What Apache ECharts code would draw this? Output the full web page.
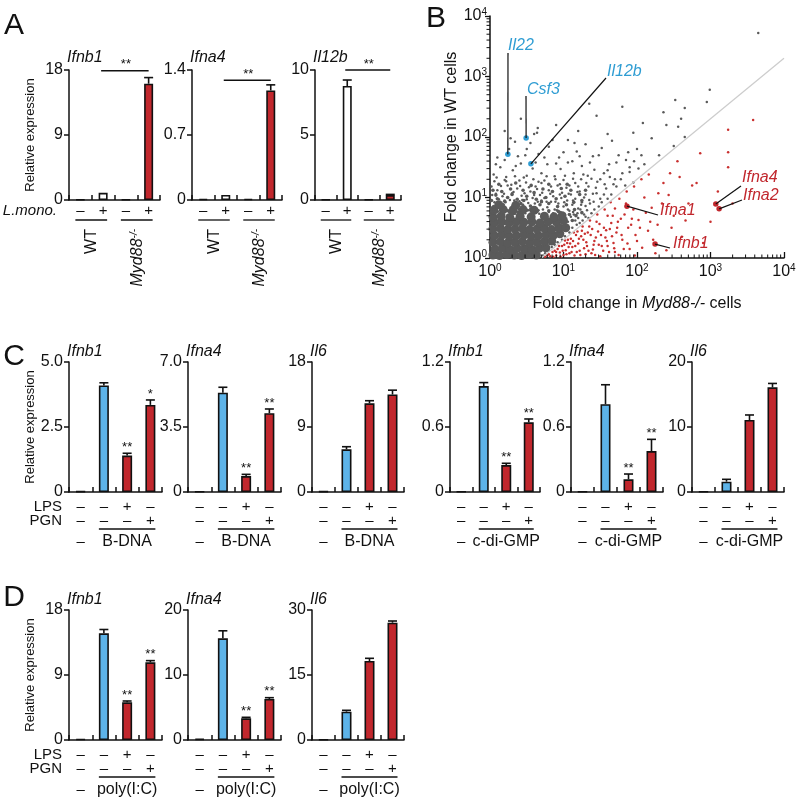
<!DOCTYPE html>
<html><head><meta charset="utf-8">
<script src="https://cdn.jsdelivr.net/npm/echarts@6/dist/echarts.min.js"></script>
<style>html,body{margin:0;padding:0;background:#fff}#c{width:796px;height:799px}</style>
</head><body><div id="c"></div>
<script>
const FONT = '"Liberation Sans", Arial, Helvetica, sans-serif';
const INK = '#111111', RED = '#c1272d', BLUE = '#5db3e8', WHITE = '#ffffff', LBLUE = '#2f9dd3', GRAY = '#5a5a5a', PTRED = '#c9302f';

const cats = ['1', '2', '3', '4'];

// ---------- Panel A ----------
const aSigns = ['–', '+', '–', '+'];
const aIfnb1 = [0.06, 1.0, 0.06, 16.1];
const aIfnb1Err = [null, null, null, 16.95];
const aIfna4 = [0.012, 0.055, 0.012, 1.18];
const aIfna4Err = [null, null, null, 1.24];
const aIl12b = [0.04, 8.77, 0.04, 0.38];
const aIl12bErr = [null, 9.23, null, 0.43];
const aSig = [17.9, 1.29, 10.0];
const ticksA1 = ['0', '9', '18'], ticksA2 = ['0', '0.7', '1.4'], ticksA3 = ['0', '5', '10'];

// ---------- Panels C / D ----------
const lpsRow = ['–', '–', '+', '–'];
const pgnRow = ['–', '–', '–', '+'];
const cBIfnb1 = [0.03, 4.10, 1.40, 3.35], cBIfnb1Err = [null, 4.20, 1.49, 3.54], cBIfnb1Stars = ['', '', '**', '*'];
const cBIfna4 = [0.03, 5.35, 0.86, 4.24], cBIfna4Err = [null, 5.64, 0.95, 4.47], cBIfna4Stars = ['', '', '**', '**'];
const cBIl6 = [0.10, 5.91, 12.28, 13.5], cBIl6Err = [null, 6.27, 12.64, 14.1];
const cGIfnb1 = [0.005, 0.978, 0.249, 0.643], cGIfnb1Err = [null, 1.01, 0.265, 0.674], cGIfnb1Stars = ['', '', '**', '**'];
const cGIfna4 = [0.005, 0.81, 0.117, 0.378], cGIfna4Err = [null, 0.99, 0.166, 0.486], cGIfna4Stars = ['', '', '**', '**'];
const cGIl6 = [0.10, 1.59, 11.08, 16.1], cGIl6Err = [null, 1.95, 11.85, 16.7];
const dIfnb1 = [0.15, 14.77, 5.22, 10.76], dIfnb1Err = [null, 15.3, 5.40, 10.99], dIfnb1Stars = ['', '', '**', '**'];
const dIfna4 = [0.2, 15.65, 3.33, 6.31], dIfna4Err = [null, 16.8, 3.49, 6.51], dIfna4Stars = ['', '', '**', '**'];
const dIl6 = [0.15, 6.54, 18.23, 27.07], dIl6Err = [null, 6.85, 18.85, 27.46];
const ticksC1 = ['0', '2.5', '5.0'], ticksC2 = ['0', '3.5', '7.0'], ticksC3 = ['0', '9', '18'];
const ticksC4 = ['0', '0.6', '1.2'], ticksC6 = ['0', '10', '20'];
const ticksD1 = ['0', '9', '18'], ticksD2 = ['0', '10', '20'], ticksD3 = ['0', '15', '30'];

// ---------- Panel B (values in log10 units: [log10 Myd88-/-, log10 WT]) ----------
const bTickExp = ['0', '1', '2', '3', '4'];
const logMinor = [2,3,4,5,6,7,8,9,20,30,40,50,60,70,80,90,200,300,400,500,600,700,800,900,2000,3000,4000,5000,6000,7000,8000,9000];
const diagLine = [[5, 1], [10000, 2000]];
const grayCoreLog = [
 [0.04,0.05],[0.13,0.04],[0.23,0.06],[0.33,0.05],[0.43,0.04],[0.53,0.06],[0.63,0.05],
 [0.07,0.15],[0.17,0.16],[0.27,0.14],[0.37,0.16],[0.47,0.15],[0.57,0.14],[0.67,0.16],[0.76,0.17],
 [0.04,0.26],[0.14,0.27],[0.24,0.25],[0.34,0.26],[0.44,0.27],[0.54,0.25],[0.64,0.26],[0.74,0.27],[0.84,0.28],
 [0.06,0.37],[0.16,0.38],[0.26,0.36],[0.36,0.37],[0.46,0.38],[0.56,0.36],[0.66,0.37],[0.76,0.38],[0.86,0.37],[0.95,0.4],
 [0.04,0.48],[0.14,0.49],[0.24,0.47],[0.34,0.48],[0.44,0.49],[0.54,0.47],[0.64,0.48],[0.74,0.49],[0.84,0.47],[0.94,0.5],[1.03,0.5],
 [0.06,0.59],[0.16,0.6],[0.26,0.58],[0.36,0.6],[0.46,0.59],[0.57,0.6],[0.68,0.58],[0.79,0.6],[0.9,0.6],[1.0,0.62],
 [0.04,0.68],[0.15,0.69],[0.27,0.67],[0.41,0.69],[0.56,0.68],[0.74,0.69],[0.87,0.68],[0.98,0.7],
 [0.05,0.79],[0.18,0.8],[0.31,0.78],[0.45,0.8],[0.6,0.79],[0.12,0.88],[0.35,0.87]
];
const grayMidLog = [
 [0.05,0.85],[0.18,0.88],[0.3,0.84],[0.42,0.9],[0.55,0.86],[0.68,0.88],[0.8,0.9],[0.92,0.85],[1.04,0.88],[1.15,0.8],
 [0.1,0.98],[0.24,1.0],[0.37,0.97],[0.5,1.02],[0.63,0.97],[0.76,1.0],[0.9,0.98],[1.02,1.02],[1.14,0.92],[1.25,0.95],
 [0.04,1.12],[0.16,1.1],[0.28,1.14],[0.45,1.12],[0.6,1.08],[0.72,1.14],[0.85,1.1],[0.97,1.15],[1.1,1.12],[1.22,1.05],
 [0.12,1.22],[0.35,1.24],[0.56,1.2],[0.8,1.22],[1.05,1.22],[1.3,1.12],[1.12,0.62],[1.17,0.7],[1.05,0.5],[1.25,0.75],
 [0.09,0.77],[0.24,0.78],[0.38,0.76],[0.5,0.79],[0.64,0.77],[0.8,0.78],[0.93,0.77],[1.08,0.72],
 [0.02,0.95],[0.2,0.94],[0.46,0.95],[0.7,0.93],[0.3,1.05],[0.08,1.04]
];
const grayLog = [
 [0.02,0.8],[0.09,0.86],[0.15,0.78],[0.21,0.92],[0.28,0.83],[0.33,0.95],[0.39,0.8],[0.45,0.88],[0.5,0.97],[0.55,0.82],
 [0.61,0.9],[0.66,0.79],[0.7,0.95],[0.78,0.84],[0.83,0.93],[0.88,0.8],[0.93,0.9],[1.0,0.85],[1.05,0.95],[1.08,0.78],
 [1.12,0.88],[1.16,0.98],[1.2,0.82],[1.25,0.92],[1.3,0.86],[0.12,0.97],[0.36,0.89],[0.58,0.99],[0.97,0.99],[1.1,0.68],
 [1.06,0.6],[1.14,0.72],[1.2,0.66],[1.18,0.55],[1.12,0.5],[1.08,0.42],[1.02,0.36],[0.98,0.3],[0.92,0.26],[0.88,0.22],
 [0.84,0.18],[0.8,0.12],[0.75,0.08],[0.72,0.04],
 [0.03,1.04],[0.1,1.12],[0.17,1.02],[0.24,1.2],[0.3,1.07],[0.37,1.15],[0.43,1.03],[0.49,1.25],[0.55,1.1],[0.62,1.18],
 [0.68,1.04],[0.74,1.28],[0.8,1.12],[0.86,1.02],[0.92,1.2],[0.98,1.08],[1.04,1.16],[1.1,1.05],[1.16,1.24],[1.22,1.1],
 [1.28,1.0],[1.34,1.18],[1.4,1.06],[1.46,1.26],[0.06,1.27],[0.2,1.29],[0.4,1.28],[0.66,1.26],[1.0,1.29],[1.24,1.3],
 [1.36,0.9],[1.42,0.8],[1.5,0.98],[1.48,0.85],
 [0.05,1.38],[0.14,1.5],[0.22,1.34],[0.31,1.45],[0.42,1.56],[0.5,1.36],[0.58,1.48],[0.7,1.4],[0.78,1.55],[0.88,1.35],
 [0.96,1.47],[1.06,1.58],[1.14,1.4],[1.25,1.52],[1.33,1.36],[1.42,1.46],[1.55,1.4],[1.62,1.55],[1.7,1.3],[1.58,1.15],[1.65,1.05],
 [0.1,1.66],[0.26,1.8],[0.38,1.68],[0.55,1.9],[0.66,1.72],[0.8,1.84],[0.94,1.66],[1.06,1.95],[1.18,1.76],[1.3,1.88],
 [1.4,1.68],[1.52,1.82],[1.66,1.94],[1.75,1.7],[1.85,1.62],[1.8,1.4],[1.9,1.5],[1.95,1.25],[2.0,1.8],[1.72,1.18],
 [1.78,1.3],[1.84,1.2],[1.9,1.42],[1.96,1.6],[2.02,1.48],[2.06,1.7],[1.88,1.75],[2.1,1.55],
 [0.2,2.1],[0.42,2.3],[0.6,2.05],[0.9,2.2],[1.2,2.1],[1.45,2.35],[1.6,2.05],[1.95,2.07],[2.08,2.23],[2.2,1.98],
 [2.36,2.41],[2.4,2.2],[2.56,2.17],[2.52,2.61],[2.65,2.48],[2.65,2.0],[2.95,2.58],[2.99,2.78],[3.65,3.72],[1.8,2.5],
 [0.65,2.15],[2.3,1.7],[2.5,1.85],[2.6,2.3],[1.35,2.55],[0.34,1.92],[0.64,2.07],
 [0.03,0.74],[0.11,0.77],[0.19,0.72],[0.26,0.76],[0.34,0.73],[0.41,0.78],[0.48,0.74],[0.53,0.79],[0.6,0.75],[0.67,0.73],
 [0.72,0.8],[0.8,0.76],[0.86,0.74],[0.91,0.79],[0.96,0.76],[1.02,0.72],[1.06,0.8],[1.13,0.76],[1.19,0.74],[1.23,0.8],
 [1.28,0.72],[1.32,0.79],[1.26,0.62],[1.3,0.68],[1.22,0.58],[1.16,0.62],[1.38,0.74],[1.34,0.66],
 [0.06,0.92],[0.14,0.9],[0.19,1.06],[0.27,0.96],[0.32,1.09],[0.4,0.94],[0.47,1.07],[0.52,0.91],[0.6,1.04],[0.65,0.93],
 [0.71,1.08],[0.77,0.93],[0.82,1.06],[0.89,0.93],[0.95,1.05],[1.01,0.92],[1.07,1.06],[1.13,0.95],[1.19,1.09],[1.24,0.88],
 [1.3,1.05],[1.35,0.96],[1.41,0.93],[1.45,1.07],[1.52,0.92],[1.55,1.05],[1.6,0.98],[0.08,1.06],[0.44,0.96],[0.74,0.99],
 [0.02,1.18],[0.09,1.33],[0.15,1.19],[0.22,1.27],[0.29,1.21],[0.34,1.35],[0.41,1.19],[0.46,1.33],[0.53,1.17],[0.59,1.3],
 [0.64,1.14],[0.7,1.24],[0.77,1.35],[0.83,1.18],[0.89,1.3],[0.95,1.22],[1.02,1.36],[1.08,1.2],[1.13,1.31],[1.2,1.18],
 [1.27,1.38],[1.31,1.24],[1.38,1.31],[1.44,1.16],[1.5,1.3],[1.56,1.22],[1.63,1.34],[1.68,1.22],
 [0.08,1.55],[0.2,1.62],[0.35,1.52],[0.48,1.7],[0.62,1.58],[0.74,1.66],[0.9,1.56],[1.0,1.75],[1.12,1.6],[1.22,1.68],
 [1.36,1.58],[1.48,1.7],[1.6,1.45],[1.72,1.58],[0.28,1.98],[0.5,1.8],[0.85,1.95],[1.15,1.9]
];
const redLog = [
 [0.75,0.02],[0.8,0.06],[0.85,0.1],[0.82,0.03],[0.9,0.04],[0.92,0.15],[0.95,0.09],[0.98,0.2],[1.0,0.05],[1.03,0.13],
 [1.05,0.25],[1.08,0.08],[1.1,0.32],[1.12,0.18],[1.15,0.04],[1.17,0.38],[1.2,0.24],[1.22,0.12],[1.25,0.45],[1.27,0.3],
 [1.3,0.06],[1.32,0.2],[1.35,0.52],[1.37,0.38],[1.4,0.14],[1.42,0.28],[1.45,0.6],[1.47,0.44],[1.5,0.03],[1.52,0.2],
 [1.55,0.5],[1.57,0.34],[1.6,0.7],[1.62,0.1],[1.65,0.58],[1.68,0.25],[1.7,0.82],[1.72,0.42],[1.75,0.05],[1.78,0.65],
 [1.8,0.3],[1.85,0.9],[1.88,0.5],[1.9,0.15],[1.95,0.8],[1.98,0.38],[2.02,0.63],[2.07,0.17],[2.1,1.0],[2.15,0.45],
 [2.18,0.6],[2.2,0.83],[2.25,0.08],[2.29,1.07],[2.36,1.24],[2.4,0.13],[2.43,1.04],[2.45,1.4],[2.5,0.7],[2.58,1.34],
 [2.61,0.35],[2.7,0.9],[2.81,1.24],[2.86,1.73],[3.0,0.6],[3.1,1.1],[3.24,1.5],[3.24,1.75],[3.24,2.12],[3.58,2.28],
 [3.3,0.9],[2.9,0.25],[2.55,1.6],
 [0.88,0.12],[0.96,0.02],[1.01,0.22],[1.07,0.18],[1.13,0.28],[1.18,0.1],[1.24,0.36],[1.28,0.16],[1.33,0.42],[1.38,0.08],
 [1.44,0.34],[1.48,0.22],[1.58,0.46],[1.66,0.36],[1.74,0.6],[1.82,0.15],[1.92,0.55],[2.0,0.28],[1.02,0.29],[1.14,0.42],
 [1.26,0.52],[1.36,0.62],[1.46,0.72],[1.56,0.8],[1.64,0.92],[1.76,0.98],[1.86,1.1],[1.96,1.18],[2.06,1.3],[2.16,1.38],
 [1.7,0.1],[1.6,0.2],
 [0.78,0.04],[0.86,0.02],[0.9,0.1],[0.94,0.2],[0.99,0.12],[1.04,0.06],[1.06,0.3],[1.09,0.24],[1.11,0.1],[1.16,0.2],
 [1.19,0.44],[1.21,0.32],[1.23,0.05],[1.29,0.4],[1.31,0.26],[1.34,0.12],[1.39,0.48],[1.41,0.22],[1.43,0.05],[1.49,0.56],
 [1.51,0.38],[1.54,0.12],[1.59,0.28],[1.63,0.48],[1.67,0.7],[1.69,0.16],[1.73,0.5],[1.79,0.38],[1.83,0.72],[1.87,0.24],
 [1.93,0.65],[1.97,0.04],[2.04,0.5],[2.12,0.75],[2.22,0.3],[2.28,0.55],[2.34,0.9],[2.47,0.5],[2.66,0.62],[2.75,1.2]
];
const bBlueGenes = ['Il22', 'Csf3', 'Il12b'];
const bBluePts = [[1.75, 52], [3.1, 96], [3.6, 36]];
const bRedGenes = ['Ifna1', 'Ifnb1', 'Ifna4', 'Ifna2'];
const bRedPts = [[73, 7.2], [176, 1.7], [1180, 7.8], [1310, 6.5]];

// ---------- layout ----------
const specs = [
 {title:'Ifnb1', vals:aIfnb1, err:aIfnb1Err, max:18, ticks:ticksA1, colors:[WHITE,WHITE,RED,RED], box:[69,70,91,130], bw:9},
 {title:'Ifna4', vals:aIfna4, err:aIfna4Err, max:1.4, ticks:ticksA2, colors:[WHITE,WHITE,RED,RED], box:[192,70,90,130], bw:9},
 {title:'Il12b', vals:aIl12b, err:aIl12bErr, max:10, ticks:ticksA3, colors:[WHITE,WHITE,RED,RED], box:[315,70,86,130], bw:9},
 {title:'Ifnb1', vals:cBIfnb1, err:cBIfnb1Err, stars:cBIfnb1Stars, max:5, ticks:ticksC1, colors:[WHITE,BLUE,RED,RED], box:[69,362,93,130], bw:10, grp:'B-DNA'},
 {title:'Ifna4', vals:cBIfna4, err:cBIfna4Err, stars:cBIfna4Stars, max:7, ticks:ticksC2, colors:[WHITE,BLUE,RED,RED], box:[188,362,93,130], bw:10, grp:'B-DNA'},
 {title:'Il6', vals:cBIl6, err:cBIl6Err, max:18, ticks:ticksC3, colors:[WHITE,BLUE,RED,RED], box:[312,362,92,130], bw:10, grp:'B-DNA'},
 {title:'Ifnb1', vals:cGIfnb1, err:cGIfnb1Err, stars:cGIfnb1Stars, max:1.2, ticks:ticksC4, colors:[WHITE,BLUE,RED,RED], box:[450,362,90,130], bw:10, grp:'c-di-GMP'},
 {title:'Ifna4', vals:cGIfna4, err:cGIfna4Err, stars:cGIfna4Stars, max:1.2, ticks:ticksC4, colors:[WHITE,BLUE,RED,RED], box:[571,362,92,130], bw:10, grp:'c-di-GMP'},
 {title:'Il6', vals:cGIl6, err:cGIl6Err, max:20, ticks:ticksC6, colors:[WHITE,BLUE,RED,RED], box:[692,362,92,130], bw:10, grp:'c-di-GMP'},
 {title:'Ifnb1', vals:dIfnb1, err:dIfnb1Err, stars:dIfnb1Stars, max:18, ticks:ticksD1, colors:[WHITE,BLUE,RED,RED], box:[69,610,93,130], bw:10, grp:'poly(I:C)'},
 {title:'Ifna4', vals:dIfna4, err:dIfna4Err, stars:dIfna4Stars, max:20, ticks:ticksD2, colors:[WHITE,BLUE,RED,RED], box:[188,610,93,130], bw:10, grp:'poly(I:C)'},
 {title:'Il6', vals:dIl6, err:dIl6Err, max:30, ticks:ticksD3, colors:[WHITE,BLUE,RED,RED], box:[312,610,92,130], bw:10, grp:'poly(I:C)'}
];

function errRender(params, api) {
  const x = api.value(0);
  const a = api.coord([x, api.value(1)]), b = api.coord([x, api.value(2)]);
  return {type:'group', children:[
    {type:'line', shape:{x1:a[0], y1:a[1], x2:b[0], y2:b[1]}, style:{stroke:INK, lineWidth:1.6}},
    {type:'line', shape:{x1:b[0]-4.5, y1:b[1], x2:b[0]+4.5, y2:b[1]}, style:{stroke:INK, lineWidth:1.6}}
  ]};
}
function minorTickRender(params, api) {
  const v = api.value(0);
  const px = api.coord([v, 1]), py = api.coord([1, v]);
  return {type:'group', children:[
    {type:'line', shape:{x1:px[0], y1:px[1], x2:px[0], y2:px[1]-3.5}, style:{stroke:INK, lineWidth:1}},
    {type:'line', shape:{x1:py[0], y1:py[1], x2:py[0]-3.5, y2:py[1]}, style:{stroke:INK, lineWidth:1}}
  ]};
}

const axisLineStyle = {color:INK, width:1.5};
const option = {animation:false, backgroundColor:'#fff', textStyle:{fontFamily:FONT}, grid:[], xAxis:[], yAxis:[], series:[]};

specs.forEach((s, i) => {
  option.grid.push({left:s.box[0], top:s.box[1], width:s.box[2], height:s.box[3], containLabel:false, outerBoundsMode:'none'});
  option.xAxis.push({type:'category', gridIndex:i, data:cats, boundaryGap:true,
    axisLine:{show:true, onZero:false, lineStyle:axisLineStyle},
    axisTick:{show:true, inside:true, length:5, interval:0, lineStyle:{color:INK, width:1.5}},
    axisLabel:{show:false}, splitLine:{show:false}});
  option.yAxis.push({type:'value', gridIndex:i, min:0, max:s.max, interval:s.max/2,
    axisLine:{show:true, lineStyle:axisLineStyle},
    axisTick:{show:true, inside:false, length:5, lineStyle:{color:INK, width:1.5}},
    splitLine:{show:false},
    axisLabel:{show:true, margin:6, fontSize:16, color:INK, fontFamily:FONT, formatter:(v, idx) => s.ticks[idx]}});
  option.series.push({type:'bar', xAxisIndex:i, yAxisIndex:i, barWidth:s.bw, silent:true,
    data:s.vals.map((v, j) => ({value:v, itemStyle:{color:s.colors[j]}})),
    itemStyle:{borderColor:INK, borderWidth:1.6}, z:2});
  const eb = [];
  s.err.forEach((e, j) => { if (e != null) eb.push([j, s.vals[j], e]); });
  option.series.push({type:'custom', xAxisIndex:i, yAxisIndex:i, data:eb, renderItem:errRender, silent:true, z:3});
});

// Panel B grid (index 12)
const BI = specs.length;
option.grid.push({left:490, top:16, width:294, height:242, containLabel:false, outerBoundsMode:'none'});
const supRich = {b:{fontSize:16, fontFamily:FONT, color:INK, lineHeight:18}, s:{fontSize:10, fontFamily:FONT, color:INK, verticalAlign:'top', lineHeight:18}};
const expLabel = v => '{b|10}{s|' + bTickExp[Math.round(Math.log(v) / Math.LN10)] + '}';
option.xAxis.push({type:'log', logBase:10, gridIndex:BI, min:1, max:10000, position:'bottom',
  axisLine:{show:true, onZero:false, lineStyle:axisLineStyle},
  axisTick:{show:true, inside:true, length:6, lineStyle:{color:INK, width:1.3}},
  axisLabel:{margin:5, formatter:expLabel, rich:supRich}, splitLine:{show:false}});
option.yAxis.push({type:'log', logBase:10, gridIndex:BI, min:1, max:10000, position:'left',
  axisLine:{show:true, onZero:false, lineStyle:axisLineStyle},
  axisTick:{show:true, inside:false, length:5, lineStyle:{color:INK, width:1.3}},
  axisLabel:{margin:3, formatter:expLabel, rich:supRich}, splitLine:{show:false}});

const fromLog = p => [Math.pow(10, p[0]), Math.pow(10, p[1])];
const bScatter = (data, size, color, z) => ({type:'scatter', xAxisIndex:BI, yAxisIndex:BI, data, symbolSize:size,
  itemStyle:{color, opacity:1}, silent:true, z});
option.series.push(bScatter(grayCoreLog.map(fromLog), 9, GRAY, 2));
option.series.push(bScatter(grayMidLog.map(fromLog), 3.6, GRAY, 2));
option.series.push(bScatter(grayLog.map(fromLog), 2.5, GRAY, 2));
option.series.push(bScatter(redLog.map(fromLog), 2.5, PTRED, 2));
option.series.push({type:'line', xAxisIndex:BI, yAxisIndex:BI, data:diagLine, symbol:'none', silent:true,
  lineStyle:{color:'#cdcdcd', width:1.3}, z:4});
option.series.push({type:'custom', xAxisIndex:BI, yAxisIndex:BI, data:logMinor.map(v => [v, v]), renderItem:minorTickRender, silent:true, clip:false, z:5});
option.series.push(bScatter(bBluePts, 5.5, LBLUE, 6));
option.series.push(bScatter(bRedPts, 5.5, RED, 6));

const chart = echarts.init(document.getElementById('c'), null, {renderer:'canvas', width:796, height:799});
chart.setOption(option);

// ---------- annotations ----------
const G = [];
function T(x, y, text, o) {
  o = o || {};
  const st = {text, fontSize:o.size || 15, fontFamily:FONT, fontStyle:o.italic ? 'italic' : 'normal', fill:o.color || INK,
    align:o.align || 'center', verticalAlign:o.va || 'middle', textAlign:o.align || 'center', textVerticalAlign:o.va || 'middle'};
  if (o.rich) st.rich = o.rich;
  G.push({type:'text', x, y, rotation:o.rot || 0, z:100, silent:true, style:st});
}
function L(x1, y1, x2, y2, w, c) {
  G.push({type:'line', z:100, silent:true, shape:{x1, y1, x2, y2}, style:{stroke:c || INK, lineWidth:w || 1.5}});
}
const P = (gi, x, y) => chart.convertToPixel({xAxisIndex:gi, yAxisIndex:gi}, [x, y]);
const ROT = Math.PI / 2;

T(14, 26, 'A', {size:30});
T(436, 19, 'B', {size:30});
T(14, 357, 'C', {size:30});
T(14, 598, 'D', {size:30});

[135, 427, 675].forEach(y => T(30, y, 'Relative expression', {size:13, rot:ROT}));

const mydRich = {i:{fontSize:16, fontFamily:FONT, fontStyle:'italic', fill:INK}, s:{fontSize:10, fontFamily:FONT, fontStyle:'italic', fill:INK, verticalAlign:'top'}};

specs.forEach((s, i) => {
  const [left, top, w, h] = s.box;
  const bottom = top + h;
  const cx = cats.map((c, j) => P(i, j, 0)[0]);
  T(left - 2, top - (i < 3 ? 12 : 10), s.title, {italic:true, size:16, align:'left'});
  if (s.stars) s.stars.forEach((st, j) => {
    if (!st) return;
    const p = P(i, j, s.err[j] != null ? s.err[j] : s.vals[j]);
    T(p[0], p[1] - 6, st, {size:13});
  });
  if (i < 3) {
    aSigns.forEach((sg, j) => T(cx[j], bottom + 11, sg, {size:15}));
    L(cx[0] - 5, bottom + 20, cx[1] + 4, bottom + 20, 1.3);
    L(cx[2] - 5, bottom + 20, cx[3] + 4, bottom + 20, 1.3);
    T((cx[0] + cx[1]) / 2, bottom + 29, 'WT', {size:16, rot:ROT, align:'right'});
    T((cx[2] + cx[3]) / 2, bottom + 29, '{i|Myd88}{s|-/-}', {size:16, rot:ROT, align:'right', rich:mydRich});
    const a = P(i, 1, aSig[i]), b = P(i, 3, aSig[i]);
    L(a[0] - 2, a[1], b[0], b[1], 1.5);
    T((a[0] + b[0]) / 2, a[1] - 6, '**', {size:13});
  } else {
    lpsRow.forEach((sg, j) => T(cx[j], bottom + 15, sg, {size:15}));
    pgnRow.forEach((sg, j) => T(cx[j], bottom + 29, sg, {size:15}));
    L(cx[1] - 5, bottom + 37, cx[3] + 5, bottom + 37, 1.3);
    T(cx[0], bottom + 50, '–', {size:15});
    T((cx[1] + cx[3]) / 2, bottom + 50, s.grp, {size:16});
  }
});
T(57, 211, 'L.mono.', {italic:true, size:15, align:'right'});
[3, 9].forEach(i => {
  const bottom = specs[i].box[1] + specs[i].box[3];
  T(62, bottom + 15, 'LPS', {size:15, align:'right'});
  T(62, bottom + 29, 'PGN', {size:15, align:'right'});
});

T(452, 137, 'Fold change in WT cells', {size:16, rot:ROT});
T(637, 304, 'Fold change in {i|Myd88-/-} cells', {size:16,
  rich:{i:{fontSize:16, fontFamily:FONT, fontStyle:'italic', fill:INK}}});
const blueLab = [[508, 46, 508, 53], [527, 90, 526, 96], [607, 72, 606, 78]];
bBluePts.forEach((pt, k) => {
  const p = P(BI, pt[0], pt[1]);
  const lb = blueLab[k];
  L(p[0], p[1], lb[2], lb[3], 1.2);
  T(lb[0], lb[1], bBlueGenes[k], {italic:true, size:16, color:LBLUE, align:'left'});
});
const redLab = [[660, 211, 658, 215], [673, 244, 670, 248], [742, 178, 741, 186], [743, 196, 742, 200]];
bRedPts.forEach((pt, k) => {
  const p = P(BI, pt[0], pt[1]);
  const lb = redLab[k];
  L(p[0], p[1], lb[2], lb[3], 1.2);
  T(lb[0], lb[1], bRedGenes[k], {italic:true, size:16, color:RED, align:'left'});
});

chart.setOption({graphic:{elements:G}});
</script></body></html>
